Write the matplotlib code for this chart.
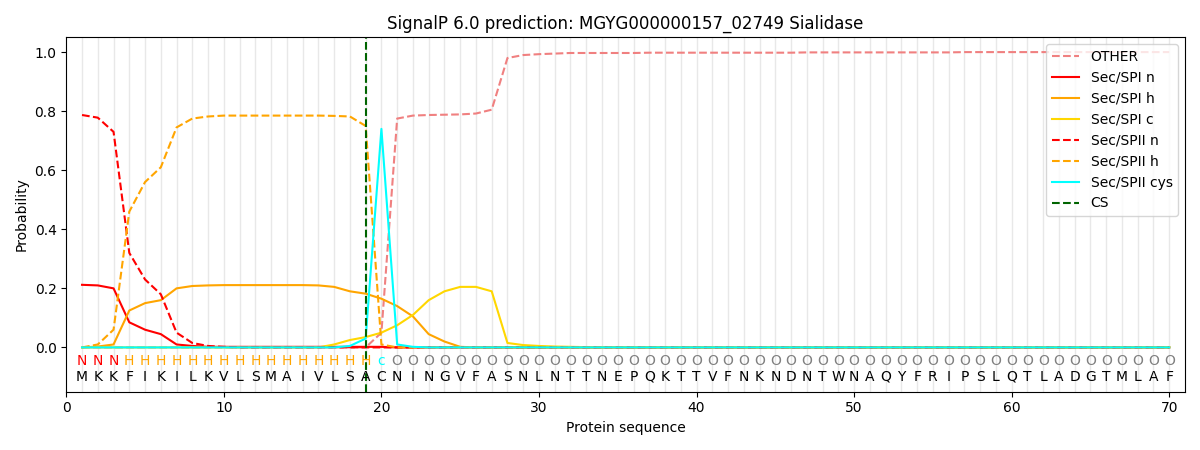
import numpy as np
from matplotlib import pyplot as plt

seq = "MKKFIKILKVLSMAIVLSACNINGVFASNLNTTNEPQKTTVFNKNDNTWNAQYFRIPSLQTLADGTMLAF"
labels = "NNN" + "H" * 16 + "c" + "O" * 50
pos = np.arange(1, 71)

other = [0] * 18 + [0.0, 0.05, 0.775, 0.785, 0.787, 0.788, 0.789, 0.792, 0.805, 0.98, 0.99, 0.993, 0.995] \
    + [0.997] * 5 + [0.998] * 10 + [0.999] * 10 + [1.0] * 14
spi_n = [0.212, 0.21, 0.2, 0.085, 0.06, 0.045, 0.01, 0.005] + [0.002] * 12 + [0.0] * 50
spi_h = [0, 0.003, 0.01, 0.125, 0.15, 0.16, 0.2, 0.208, 0.21, 0.211, 0.211, 0.211, 0.211, 0.211, 0.211,
         0.21, 0.205, 0.19, 0.182, 0.165, 0.14, 0.105, 0.045, 0.02, 0.002] + [0.0] * 45
spi_c = [0] * 16 + [0.01, 0.025, 0.035, 0.05, 0.075, 0.11, 0.16, 0.19, 0.205, 0.205, 0.19, 0.015, 0.008,
                    0.005, 0.003, 0.002] + [0.001] * 38
spii_n = [0.787, 0.778, 0.73, 0.32, 0.23, 0.18, 0.05, 0.015, 0.005, 0.002] + [0.0] * 60
spii_h = [0, 0.01, 0.06, 0.46, 0.56, 0.61, 0.745, 0.775, 0.782] + [0.785] * 7 + [0.784, 0.782, 0.75, 0.01] + [0.0] * 50
spii_cys = [0] * 17 + [0.005, 0.03, 0.74, 0.01, 0.002] + [0.0] * 48
cs_pos = 19

fig, ax = plt.subplots(figsize=(12, 4.5))
for p in pos:
    ax.axvline(p, color="lightgray", alpha=0.5, linewidth=1)
ax.plot(pos, other, "--", color="lightcoral", label="OTHER")
ax.plot(pos, spi_n, color="red", label="Sec/SPI n")
ax.plot(pos, spi_h, color="orange", label="Sec/SPI h")
ax.plot(pos, spi_c, color="gold", label="Sec/SPI c")
ax.plot(pos, spii_n, "--", color="red", label="Sec/SPII n")
ax.plot(pos, spii_h, "--", color="orange", label="Sec/SPII h")
ax.plot(pos, spii_cys, color="cyan", label="Sec/SPII cys")
ax.axvline(cs_pos, color="darkgreen", linestyle="--", label="CS")

lab_colors = {"N": "red", "H": "orange", "c": "cyan", "O": "gray"}
for p, s, l in zip(pos, seq, labels):
    ax.text(p, -0.1, s, ha="center", va="center", fontsize=10)
    ax.text(p, -0.045, l, ha="center", va="center", fontsize=10, color=lab_colors[l])

ax.set_xlim(0, 71)
ax.set_ylim(-0.15, 1.05)
ax.set_yticks(np.arange(0, 1.01, 0.2))
ax.set_xlabel("Protein sequence")
ax.set_ylabel("Probability")
ax.set_title("SignalP 6.0 prediction: MGYG000000157_02749 Sialidase")
ax.legend(loc="upper right")
plt.tight_layout()
plt.savefig("out.png", dpi=100)
